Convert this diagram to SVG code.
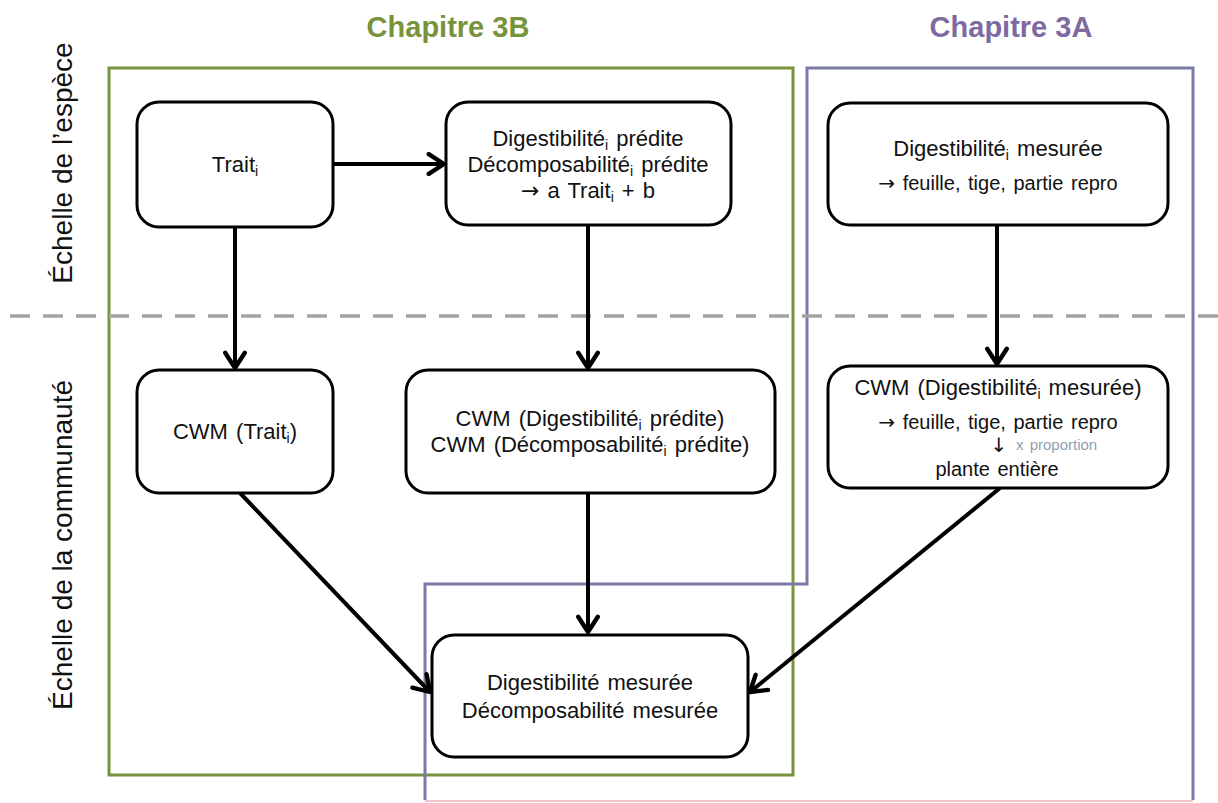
<svg xmlns="http://www.w3.org/2000/svg" width="1218" height="803" viewBox="0 0 1218 803">
<defs>
<style>
.box{fill:#fff;stroke:#000;stroke-width:3}
.t{font-family:"Liberation Sans",Arial,sans-serif;font-size:22px;fill:#111;text-anchor:middle;word-spacing:2px}
.s{font-size:20px}
.sub{font-size:14px}
.ar{font-family:"DejaVu Sans",sans-serif}
.side{font-family:"Liberation Sans",Arial,sans-serif;font-size:28px;fill:#111;text-anchor:middle}
.title{font-family:"Liberation Sans",Arial,sans-serif;font-size:29px;font-weight:bold;text-anchor:middle}
.conn{stroke:#000;stroke-width:4;fill:none;marker-end:url(#arr)}
</style>
<marker id="arr" markerUnits="userSpaceOnUse" markerWidth="24" markerHeight="24" refX="18" refY="10" orient="auto" viewBox="0 0 22 20">
<path d="M4,1 L18,10 L4,19" fill="none" stroke="#000" stroke-width="4" stroke-linecap="round" stroke-linejoin="round"/>
</marker>
</defs>
<rect width="1218" height="803" fill="#fff"/>

<g id="frames">
<rect x="109" y="68" width="684" height="707" fill="none" stroke="#77933c" stroke-width="3"/>
<path d="M425,800 L425,584 L807,584 L807,68 L1193,68 L1193,800" fill="none" stroke="#7a7aa6" stroke-width="3"/>
<line x1="425" y1="801" x2="1193" y2="801" stroke="#f3c4ca" stroke-width="2"/>
</g>

<g id="titles">
<text class="title" x="448" y="37" fill="#77933c">Chapitre 3B</text>
<text class="title" x="1011" y="37" fill="#7c6aa0">Chapitre 3A</text>
</g>

<g id="scale-labels">
<text class="side" transform="translate(72,163) rotate(-90)">Échelle de l’espèce</text>
<text class="side" transform="translate(72,545) rotate(-90)">Échelle de la communauté</text>
<line x1="10" y1="316" x2="1218" y2="316" stroke="#a3a3a3" stroke-width="3.5" stroke-dasharray="20,13"/>
</g>

<g id="connectors">
<line class="conn" x1="333" y1="164" x2="444" y2="164"/>
<line class="conn" x1="235" y1="227" x2="235" y2="368"/>
<line class="conn" x1="588" y1="225" x2="588" y2="368"/>
<line class="conn" x1="997" y1="225" x2="997" y2="364"/>
<line class="conn" x1="240" y1="493" x2="430" y2="692"/>
<line class="conn" x1="588" y1="493" x2="588" y2="632"/>
<line class="conn" x1="1000" y1="488" x2="750" y2="692"/>
</g>

<g id="node-trait">
<rect class="box" x="137" y="102" width="196" height="125" rx="22"/>
<text class="t" x="235" y="172">Trait<tspan class="sub" dy="4">i</tspan></text>
</g>

<g id="node-predite">
<rect class="box" x="446" y="102" width="285" height="123" rx="22"/>
<text class="t" x="588" y="146">Digestibilité<tspan class="sub" dy="4">i</tspan><tspan dy="-4"> prédite</tspan></text>
<text class="t" x="588" y="172">Décomposabilité<tspan class="sub" dy="4">i</tspan><tspan dy="-4"> prédite</tspan></text>
<text class="t" x="588" y="198"><tspan class="ar">→</tspan> a Trait<tspan class="sub" dy="4">i</tspan><tspan dy="-4"> + b</tspan></text>
</g>

<g id="node-mesuree-espece">
<rect class="box" x="828" y="103" width="340" height="122" rx="22"/>
<text class="t" x="998" y="156">Digestibilité<tspan class="sub" dy="4">i</tspan><tspan dy="-4"> mesurée</tspan></text>
<text class="t s" x="998" y="190"><tspan class="ar">→</tspan> feuille, tige, partie repro</text>
</g>

<g id="node-cwm-trait">
<rect class="box" x="137" y="370" width="196" height="123" rx="22"/>
<text class="t" x="235" y="439">CWM (Trait<tspan class="sub" dy="4">i</tspan><tspan dy="-4">)</tspan></text>
</g>

<g id="node-cwm-predite">
<rect class="box" x="406" y="370" width="369" height="123" rx="22"/>
<text class="t" x="590" y="426">CWM (Digestibilité<tspan class="sub" dy="4">i</tspan><tspan dy="-4"> prédite)</tspan></text>
<text class="t" x="590" y="452">CWM (Décomposabilité<tspan class="sub" dy="4">i</tspan><tspan dy="-4"> prédite)</tspan></text>
</g>

<g id="node-cwm-mesuree">
<rect class="box" x="828" y="366" width="340" height="122" rx="22"/>
<text class="t" x="998" y="395">CWM (Digestibilité<tspan class="sub" dy="4">i</tspan><tspan dy="-4"> mesurée)</tspan></text>
<text class="t s" x="998" y="429"><tspan class="ar">→</tspan> feuille, tige, partie repro</text>
<text class="t s ar" x="999" y="452">↓</text>
<text class="t" x="1016" y="450" style="font-size:15px;fill:#8fa0b0;text-anchor:start">x proportion</text>
<text class="t s" x="997" y="476">plante entière</text>
</g>

<g id="node-mesuree">
<rect class="box" x="432" y="635" width="316" height="122" rx="22"/>
<text class="t" x="590" y="690">Digestibilité mesurée</text>
<text class="t" x="590" y="718">Décomposabilité mesurée</text>
</g>
</svg>
